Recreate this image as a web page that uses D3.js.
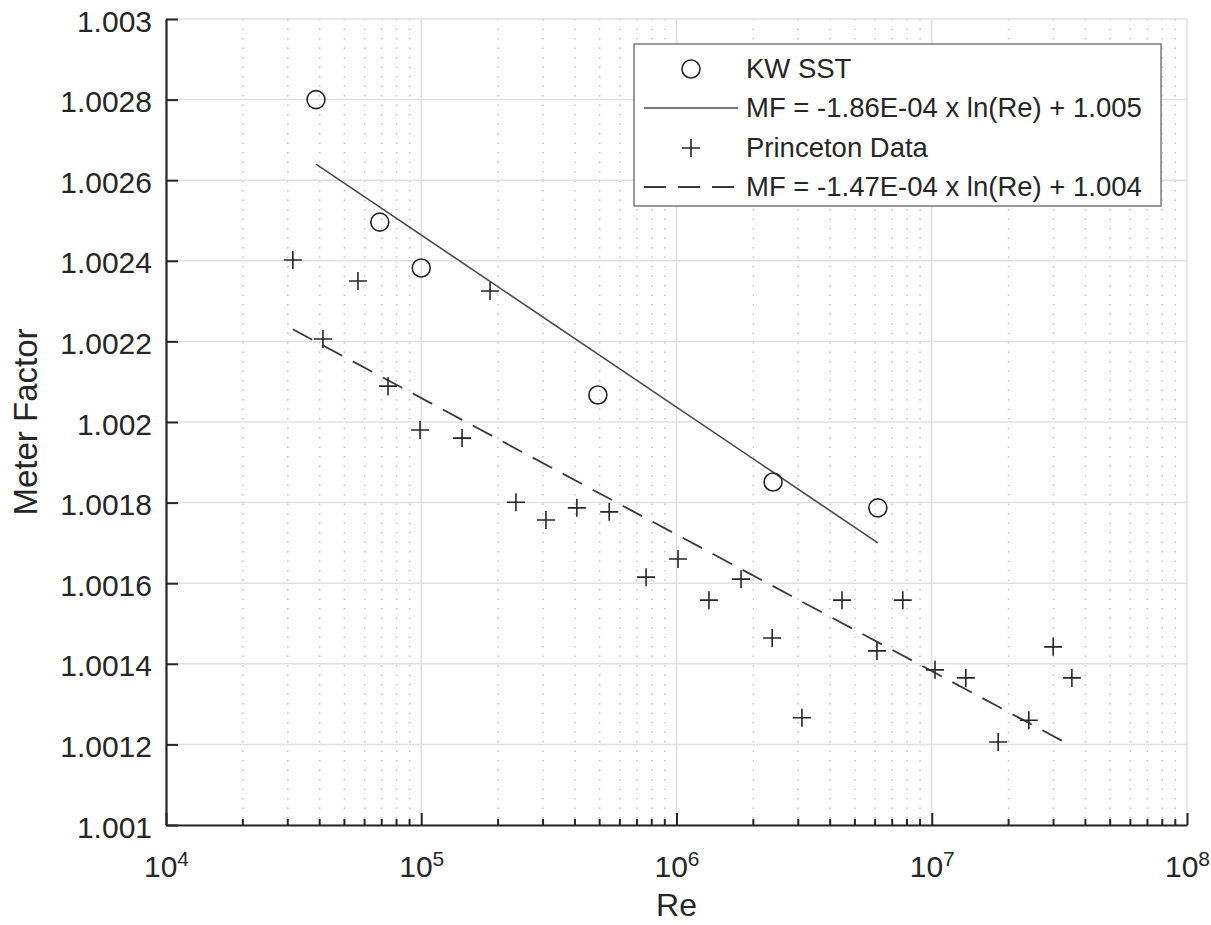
<!DOCTYPE html>
<html>
<head>
<meta charset="utf-8">
<script src="https://cdn.jsdelivr.net/npm/d3@7"></script>
<style>
    body { margin: 0; background: #fff; }
    svg { display: block; font-family: "Liberation Sans", Arial, Helvetica, sans-serif; }
</style>
</head>
<body>
<svg id="chart"></svg>
<script>
// KW SST (circles)
let kwRe = [38700, 68800, 100000, 492000, 2390000, 6150000]
let kwMF = [1.0028, 1.002496, 1.002382, 1.002067, 1.001851, 1.001787]

// Princeton data (plus markers)
let princetonRe = [31400, 41200, 56500, 74100, 98900, 144500, 186000, 235000, 308000, 407000,
    545000, 760000, 1014000, 1340000, 1790000, 2370000, 3100000, 4450000, 6100000, 7700000,
    10300000, 13600000, 18200000, 24000000, 29900000, 35400000]
let princetonMF = [1.002402, 1.002206, 1.00235, 1.002089, 1.00198, 1.00196, 1.002325, 1.001801, 1.001757, 1.001787,
    1.001777, 1.001615, 1.00166, 1.001558, 1.00161, 1.001464, 1.001266, 1.001558, 1.001432, 1.001558,
    1.001385, 1.001365, 1.001206, 1.00126, 1.001442, 1.001365]

// fit line end points
let kwFitRe = [38700, 6150000]
let kwFitMF = [1.00264, 1.0017]
let princetonFitRe = [31400, 35400000]
let princetonFitMF = [1.00223, 1.001196]

let xTickValues = [1e4, 1e5, 1e6, 1e7, 1e8]
let xTickExponents = ['4', '5', '6', '7', '8']
let yTickValues = [1.001, 1.0012, 1.0014, 1.0016, 1.0018, 1.002, 1.0022, 1.0024, 1.0026, 1.0028, 1.003]
let yTickLabels = ['1.001', '1.0012', '1.0014', '1.0016', '1.0018', '1.002', '1.0022', '1.0024', '1.0026', '1.0028', '1.003']

let legendLabels = ['KW SST', 'MF = -1.86E-04 x ln(Re) + 1.005', 'Princeton Data', 'MF = -1.47E-04 x ln(Re) + 1.004']

let width = 1211,
    height = 925,
    plotLeft = 166,
    plotRight = 1187,
    plotTop = 19,
    plotBottom = 825,
    ink = '#262626',
    dash = '22,12'

let $svg = d3.select('#chart')
    .attr('width', width)
    .attr('height', height)

let x = d3.scaleLog()
    .domain([1e4, 1e8])
    .range([plotLeft, plotRight])

let y = d3.scaleLinear()
    .domain([1.001, 1.003])
    .range([plotBottom, plotTop])

// minor x values: 2..9 in every decade
let xMinor = []
for (let dec = 4; dec < 8; dec++) {
    for (let m = 2; m <= 9; m++) xMinor.push(m * Math.pow(10, dec))
}

let $grid = $svg.append('g')

$grid.selectAll('line.minor')
    .data(xMinor)
    .enter().append('line')
    .attr('class', 'minor')
    .attr('x1', d => x(d)).attr('x2', d => x(d))
    .attr('y1', plotTop).attr('y2', plotBottom)
    .attr('stroke', '#c4c4c4')
    .attr('stroke-width', 1.5)
    .attr('stroke-dasharray', '1.5,8')

$grid.selectAll('line.xmajor')
    .data(xTickValues)
    .enter().append('line')
    .attr('class', 'xmajor')
    .attr('x1', d => x(d)).attr('x2', d => x(d))
    .attr('y1', plotTop).attr('y2', plotBottom)
    .attr('stroke', '#e0e0e0')
    .attr('stroke-width', 1.5)

$grid.selectAll('line.ymajor')
    .data(yTickValues)
    .enter().append('line')
    .attr('class', 'ymajor')
    .attr('x1', plotLeft).attr('x2', plotRight)
    .attr('y1', d => y(d)).attr('y2', d => y(d))
    .attr('stroke', '#e0e0e0')
    .attr('stroke-width', 1.5)

// axes, ticks point inwards
let xAxis = d3.axisBottom(x)
    .tickValues(xTickValues)
    .tickSizeInner(-12)
    .tickSizeOuter(0)
    .tickFormat('')

let $xAxis = $svg.append('g')
    .attr('transform', 'translate(0,' + plotBottom + ')')
    .call(xAxis)

$xAxis.append('g').selectAll('line')
    .data(xMinor)
    .enter().append('line')
    .attr('x1', d => x(d)).attr('x2', d => x(d))
    .attr('y1', 0).attr('y2', -6)
    .attr('stroke', ink)
    .attr('stroke-width', 2)

$xAxis.selectAll('.tick text')
    .attr('y', 52)
    .attr('dy', 0)
    .attr('font-size', 30)
    .attr('fill', ink)
    .attr('text-anchor', 'middle')
    .each(function(d, i) {
        let $t = d3.select(this)
        $t.append('tspan').text('10')
        $t.append('tspan')
            .attr('dy', -11)
            .attr('font-size', 21)
            .text(xTickExponents[i])
    })

let yAxis = d3.axisLeft(y)
    .tickValues(yTickValues)
    .tickSizeInner(-12)
    .tickSizeOuter(0)
    .tickPadding(14)
    .tickFormat((d, i) => yTickLabels[i])

let $yAxis = $svg.append('g')
    .attr('transform', 'translate(' + plotLeft + ',0)')
    .call(yAxis)

$yAxis.selectAll('.tick text')
    .attr('font-size', 30)
    .attr('fill', ink)
    .attr('dy', '0.4em')

$svg.selectAll('.domain')
    .attr('stroke', ink)
    .attr('stroke-width', 2.2)
$svg.selectAll('.tick line')
    .attr('stroke', ink)
    .attr('stroke-width', 2)

// axis titles
$svg.append('text')
    .attr('x', (plotLeft + plotRight) / 2)
    .attr('y', 916)
    .attr('text-anchor', 'middle')
    .attr('font-size', 32)
    .attr('fill', ink)
    .text('Re')

$svg.append('text')
    .attr('transform', 'translate(37,' + (plotTop + plotBottom) / 2 + ') rotate(-90)')
    .attr('text-anchor', 'middle')
    .attr('font-size', 33)
    .attr('fill', ink)
    .text('Meter Factor')

// fit lines
let line = d3.line()
    .x(d => x(d[0]))
    .y(d => y(d[1]))

$svg.append('path')
    .attr('d', line(d3.zip(kwFitRe, kwFitMF)))
    .attr('fill', 'none')
    .attr('stroke', '#4a4a4a')
    .attr('stroke-width', 1.6)

$svg.append('path')
    .attr('d', line(d3.zip(princetonFitRe, princetonFitMF)))
    .attr('fill', 'none')
    .attr('stroke', '#3a3a3a')
    .attr('stroke-width', 1.8)
    .attr('stroke-dasharray', dash)

// markers
function plus(sel, cx, cy, r) {
    sel.append('path')
        .attr('d', 'M' + (cx - r) + ',' + cy + 'H' + (cx + r) + 'M' + cx + ',' + (cy - r) + 'V' + (cy + r))
        .attr('fill', 'none')
        .attr('stroke', ink)
        .attr('stroke-width', 1.6)
}

$svg.append('g').selectAll('circle')
    .data(d3.zip(kwRe, kwMF))
    .enter().append('circle')
    .attr('cx', d => x(d[0]))
    .attr('cy', d => y(d[1]))
    .attr('r', 9)
    .attr('fill', 'none')
    .attr('stroke', ink)
    .attr('stroke-width', 1.6)

let $plus = $svg.append('g')
d3.zip(princetonRe, princetonMF).forEach(d => {
    plus($plus, x(d[0]), y(d[1]), 9)
})

// legend
let $legend = $svg.append('g')
$legend.append('rect')
    .attr('x', 634).attr('y', 44)
    .attr('width', 527).attr('height', 162)
    .attr('fill', '#fff')
    .attr('stroke', '#7a7a7a')
    .attr('stroke-width', 1.5)

let rowY = [69, 108, 148, 187]
$legend.append('circle')
    .attr('cx', 691).attr('cy', rowY[0]).attr('r', 9)
    .attr('fill', 'none').attr('stroke', ink).attr('stroke-width', 1.6)
$legend.append('line')
    .attr('x1', 644).attr('x2', 738)
    .attr('y1', rowY[1]).attr('y2', rowY[1])
    .attr('stroke', '#4a4a4a').attr('stroke-width', 1.6)
plus($legend, 691, rowY[2], 9)
$legend.append('line')
    .attr('x1', 644).attr('x2', 738)
    .attr('y1', rowY[3]).attr('y2', rowY[3])
    .attr('stroke', '#3a3a3a').attr('stroke-width', 1.8)
    .attr('stroke-dasharray', dash)

$legend.selectAll('text')
    .data(legendLabels)
    .enter().append('text')
    .attr('x', 746)
    .attr('y', (d, i) => rowY[i] + 9)
    .attr('font-size', 27.5)
    .attr('fill', ink)
    .text(d => d)
</script>
</body>
</html>
